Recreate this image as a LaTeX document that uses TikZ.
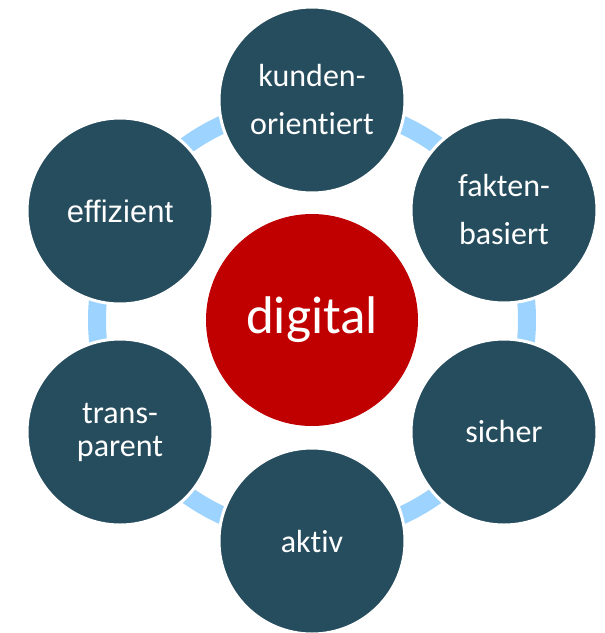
\documentclass[tikz,border=0pt]{standalone}
\usepackage{fontspec}
\setmainfont[Ligatures=NoCommon]{Carlito}
\newfontfamily\arialfont{Liberation Sans}
\definecolor{petrol}{HTML}{264D5E}
\definecolor{ringblue}{HTML}{9DD4FF}
\definecolor{digitalred}{HTML}{C00000}

\begin{document}
\begin{tikzpicture}[x=1pt, y=-1pt,
    outer/.style={circle, fill=petrol, draw=white, line width=3pt, inner sep=0pt,
        minimum size=186pt, text=white, align=center,
        font=\fontsize{32}{48}\selectfont},
    core/.style={circle, fill=digitalred, inner sep=0pt, minimum size=212pt,
        text=white, font=\fontsize{53}{60}\selectfont},
    ring/.style={draw=ringblue, line width=18pt}]

    \useasboundingbox (0,0) rectangle (605,633);

    \coordinate (c) at (312,320);
    \draw[ring] (c) circle[radius=215];

    \node[core] (mid) at (c) {digital};

    \node[outer] (kunden) at (312,100) {kunden-\\orientiert};
    \node[outer] (fakten) at (504,210) {fakten-\\basiert};
    \node[outer] (sicher) at (504,432) {sicher};
    \node[outer] (aktiv) at (312,541) {aktiv};
    \node[outer, font=\fontsize{32}{33}\selectfont] (trans) at (120,432) {trans-\\parent};
    \node[outer, font=\arialfont\fontsize{31}{36}\selectfont] (effiz) at (120,211) {effizient};

\end{tikzpicture}
\end{document}
